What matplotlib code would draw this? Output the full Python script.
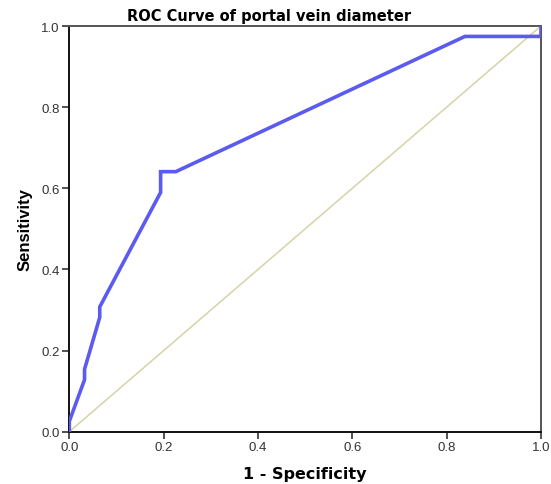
import matplotlib
matplotlib.use("Agg")
import matplotlib.pyplot as plt

plt.rcParams['font.family'] = ['Liberation Sans', 'DejaVu Sans']

n_pos = 39
n_neg = 31
fp_counts = [0, 0, 1, 1, 2, 2, 6, 6, 7, 26, 31, 31]
tp_counts = [0, 1, 5, 6, 11, 12, 23, 25, 25, 38, 38, 39]
fpr = [c / n_neg for c in fp_counts]
tpr = [c / n_pos for c in tp_counts]
ref_line = [0, 1]
ticks = [0.0, 0.2, 0.4, 0.6, 0.8, 1.0]
tick_labels = ["0.0", "0.2", "0.4", "0.6", "0.8", "1.0"]

fig = plt.figure(figsize=(5.51, 4.85), dpi=100)
ax = fig.add_axes([0.1258, 0.1078, 0.856, 0.8365])
ax.plot(ref_line, ref_line, color='#d4d4a8', lw=1.1, zorder=2)
ax.plot(fpr, tpr, color='#5b5bf0', lw=2.6, zorder=3, solid_joinstyle='miter')
ax.set_xlim(0, 1)
ax.set_ylim(0, 1)
ax.set_xticks(ticks)
ax.set_xticklabels(tick_labels)
ax.set_yticks(ticks)
ax.set_yticklabels(tick_labels)
ax.tick_params(direction='out', length=5, width=1.2, labelsize=9.5, colors='#333333', pad=2)
for s in ['left', 'bottom']:
    ax.spines[s].set_color('#111111')
    ax.spines[s].set_linewidth(1.4)
for s in ['top', 'right']:
    ax.spines[s].set_color('#555555')
    ax.spines[s].set_linewidth(1.4)
ax.set_xlabel('1 - Specificity', fontsize=11.5, fontweight='bold', labelpad=9,
              family=['DejaVu Sans'])
ax.set_ylabel('Sensitivity', fontsize=12, fontweight='bold', labelpad=6)
fig.text(269 / 551, 1 - 16 / 485, 'ROC Curve of portal vein diameter', fontsize=10.5,
         fontweight='bold', family=['DejaVu Sans'], ha='center', va='center')
fig.savefig('out.png', dpi=100)
